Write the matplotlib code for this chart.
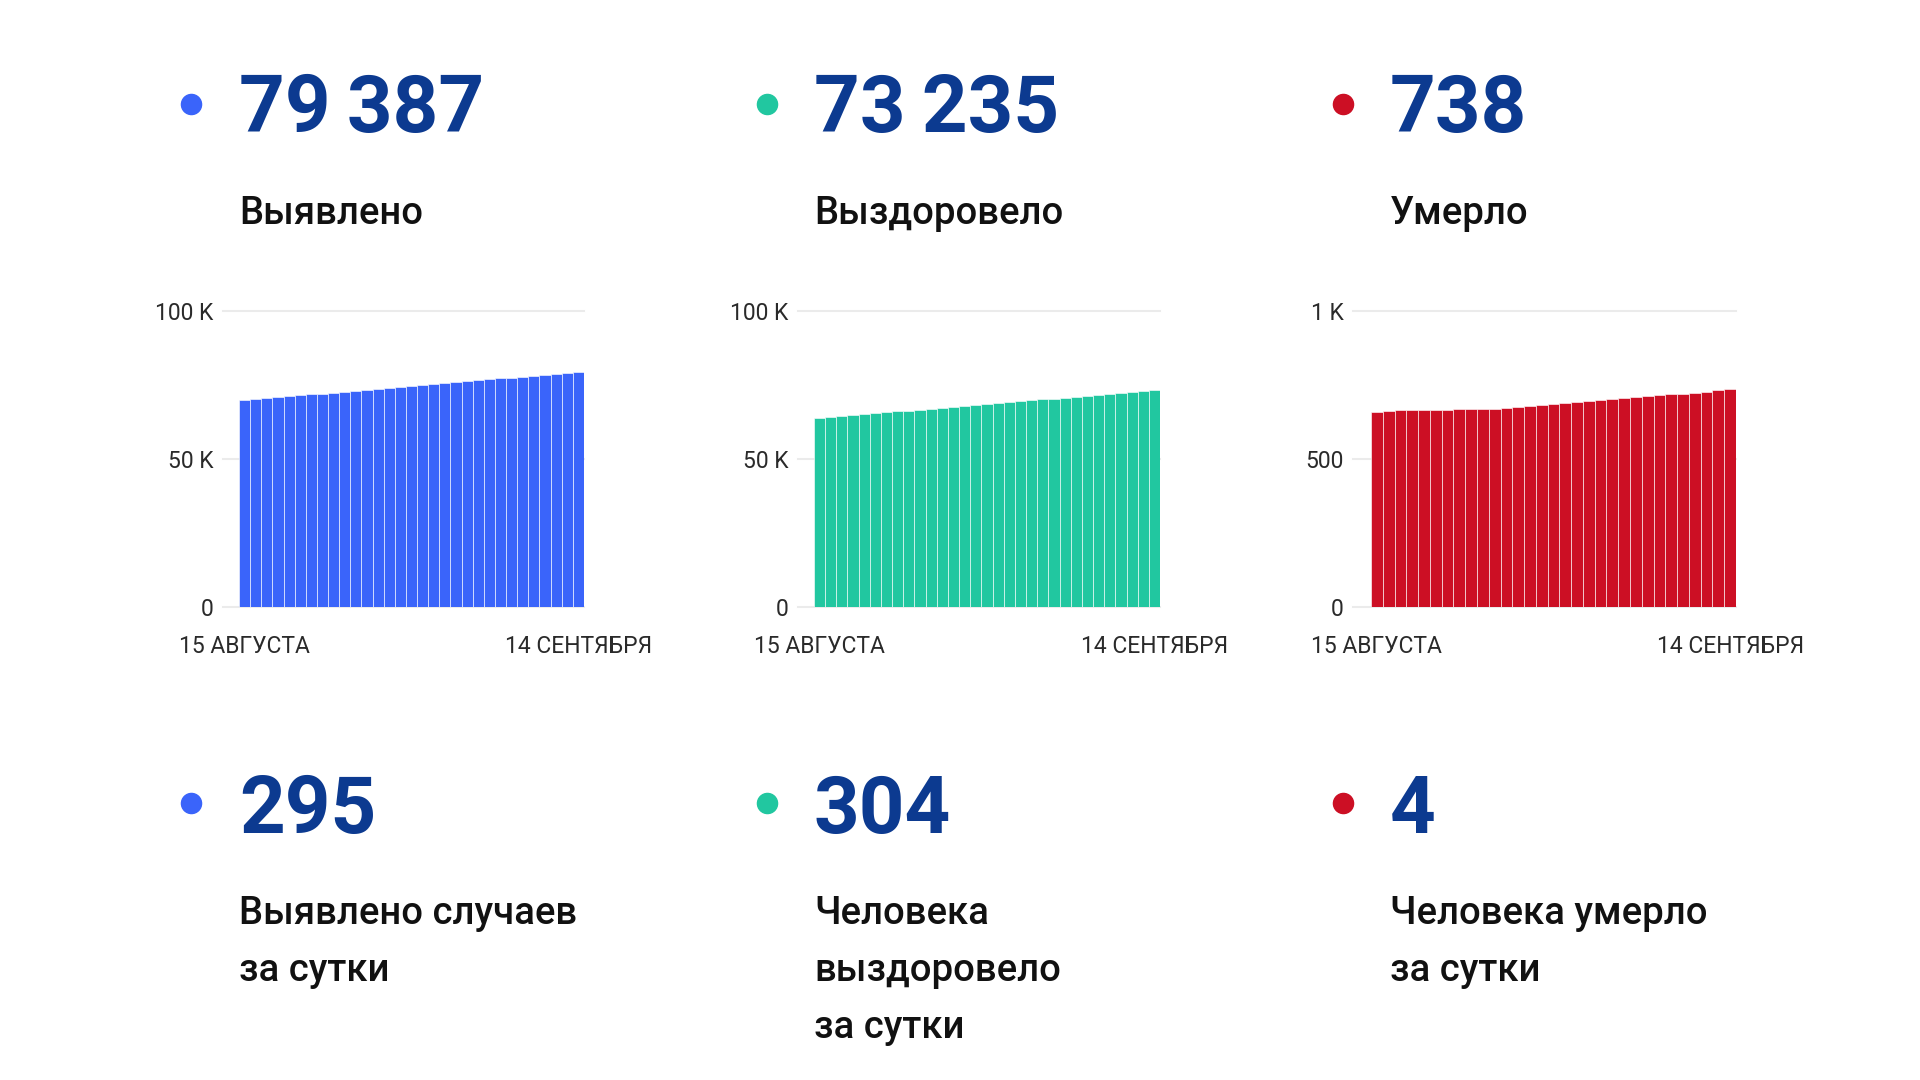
import matplotlib.pyplot as plt

plt.rcParams['font.family'] = ['Roboto', 'DejaVu Sans']

# Cumulative values, 15 Aug .. 14 Sep (31 days)
detected = [69900, 70220, 70540, 70855, 71170, 71490, 71810, 72125, 72440, 72760,
            73080, 73395, 73710, 74030, 74350, 74665, 74980, 75300, 75620, 75935,
            76250, 76570, 76890, 77205, 77520, 77840, 78150, 78460, 78775, 79092,
            79387]
recovered = [63900, 64210, 64520, 64830, 65140, 65450, 65760, 66075, 66385, 66695,
             67005, 67315, 67625, 67935, 68245, 68555, 68870, 69180, 69490, 69800,
             70110, 70420, 70730, 71040, 71350, 71660, 71975, 72290, 72610, 72931,
             73235]
died = [660, 662, 664, 664, 666, 666, 667, 668, 669, 670,
        670, 671, 676, 679, 682, 686, 689, 693, 695, 698,
        702, 705, 708, 712, 715, 718, 721, 724, 727, 734,
        738]

totals = ["79\u2009387", "73\u2009235", "738"]
total_labels = ["Выявлено", "Выздоровело", "Умерло"]
daily = ["295", "304", "4"]
daily_labels = [["Выявлено случаев", "за сутки"],
                ["Человека", "выздоровело", "за сутки"],
                ["Человека умерло", "за сутки"]]
date_labels = ["15 АВГУСТА", "14 СЕНТЯБРЯ"]
y_ticks = [[0, 50000, 100000], [0, 50000, 100000], [0, 500, 1000]]
y_ticklabels = [["0", "50 K", "100 K"], ["0", "50 K", "100 K"], ["0", "500", "1 K"]]
series = [detected, recovered, died]

colors = ["#3a64fa", "#21c7a0", "#cc0f24"]
num_color = "#0c3a90"

W, H = 1920, 1080
fig = plt.figure(figsize=(19.2, 10.8), dpi=100)

# overlay axes in pixel coordinates for texts and dots
over = fig.add_axes([0, 0, 1, 1])
over.set_xlim(0, W)
over.set_ylim(H, 0)
over.axis("off")

dot_x = [191, 767, 1343]
text_x = [239, 814, 1390]

for i in range(3):
    over.scatter([dot_x[i], dot_x[i]], [104, 803], s=210, color=colors[i], zorder=3)
    over.text(text_x[i], 132, totals[i], fontsize=57.5, fontweight="bold",
              color=num_color, va="baseline", ha="left")
    over.text(text_x[i], 224, total_labels[i], fontsize=27.5, fontweight="medium",
              color="#111111", va="baseline", ha="left")
    over.text(text_x[i], 833, daily[i], fontsize=57.5, fontweight="bold",
              color=num_color, va="baseline", ha="left")
    for j, line in enumerate(daily_labels[i]):
        over.text(text_x[i], 924 + j * 57, line, fontsize=27.5, fontweight="medium",
                  color="#111111", va="baseline", ha="left")

# bar charts: (gridline start, bar start, bar end) in pixels
chart_px = [(223, 239, 584), (798, 814, 1160), (1353, 1371, 1736)]
y0_px, y1_px = 607, 311

for i, (gx, bx0, bx1) in enumerate(chart_px):
    n = len(series[i])
    step = (bx1 - bx0) / n
    pad = (bx0 - gx) / step
    ax = fig.add_axes([gx / W, 1 - y0_px / H, (bx1 - gx) / W, (y0_px - y1_px) / H])
    ax.bar(range(n), series[i], width=1.0, color=colors[i],
           edgecolor=(1, 1, 1, 0.6), linewidth=0.7, zorder=2)
    ax.set_xlim(-0.5 - pad, n - 0.5)
    ax.set_ylim(0, y_ticks[i][-1])
    ax.set_yticks(y_ticks[i])
    ax.set_yticklabels(y_ticklabels[i])
    ax.set_xticks([0, n - 1])
    ax.set_xticklabels(date_labels)
    ax.tick_params(axis="y", length=0, pad=7, labelsize=16.5, labelcolor="#2a2a2a")
    ax.tick_params(axis="x", length=0, pad=20, labelsize=16.5, labelcolor="#2a2a2a")
    ax.grid(axis="y", color="#ebebeb", linewidth=1.5, zorder=0)
    ax.set_axisbelow(True)
    for sp in ax.spines.values():
        sp.set_visible(False)
    ax.set_facecolor("none")
    for gl in ax.get_ygridlines():
        gl.set_clip_on(False)

fig.savefig("out.png", dpi=100, facecolor="white")
